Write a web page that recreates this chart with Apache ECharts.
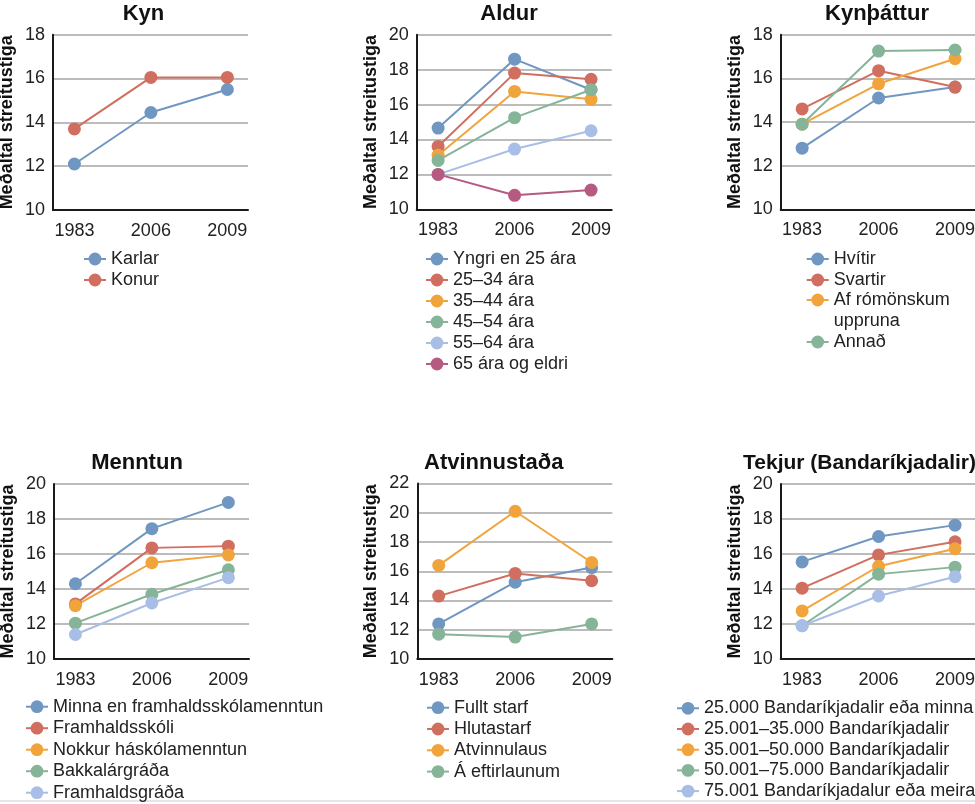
<!DOCTYPE html>
<html>
<head>
<meta charset="utf-8">
<script src="https://cdn.jsdelivr.net/npm/echarts@6/dist/echarts.min.js"></script>
<style>
  html, body { margin: 0; padding: 0; background: #fff; }
  #main { width: 975px; height: 804px; }
</style>
</head>
<body>
<div id="main"></div>
<script>
// litir
var colors = ['#6f97c1', '#d06f5f', '#f2a43c', '#86b498', '#a9bee6', '#b65a82']
var years = ['1983', '2006', '2009']
var yName = 'Meðaltal streitustiga'

// Kyn
var kynNames = ['Karlar', 'Konur']
var kynKarlar = [12.1, 14.45, 15.5]
var kynKonur = [13.7, 16.05, 16.05]

// Aldur
var aldurNames = ['Yngri en 25 ára', '25–34 ára', '35–44 ára', '45–54 ára', '55–64 ára', '65 ára og eldri']
var aldurYngri = [14.65, 18.6, 16.85]
var aldur2534 = [13.6, 17.8, 17.45]
var aldur3544 = [13.1, 16.75, 16.3]
var aldur4554 = [12.8, 15.25, 16.85]
var aldur5564 = [12.0, 13.45, 14.5]
var aldur65 = [12.0, 10.8, 11.1]

// Kynþáttur
var kynthNames = ['Hvítir', 'Svartir', 'Af rómönskum uppruna', 'Annað']
var kynthHvitir = [12.8, 15.1, 15.6]
var kynthSvartir = [14.6, 16.35, 15.6]
var kynthRom = [13.9, 15.75, 16.9]
var kynthAnnad = [13.9, 17.25, 17.3]

// Menntun
var menntNames = ['Minna en framhaldsskólamenntun', 'Framhaldsskóli', 'Nokkur háskólamenntun', 'Bakkalárgráða', 'Framhaldsgráða']
var menntMinna = [14.3, 17.45, 18.95]
var menntFramh = [13.15, 16.35, 16.45]
var menntNokkur = [13.05, 15.5, 15.95]
var menntBakk = [12.05, 13.7, 15.1]
var menntFramhGr = [11.4, 13.2, 14.65]

// Atvinnustaða
var atvNames = ['Fullt starf', 'Hlutastarf', 'Atvinnulaus', 'Á eftirlaunum']
var atvFullt = [12.4, 15.25, 16.25]
var atvHluta = [14.3, 15.85, 15.35]
var atvLaus = [16.4, 20.1, 16.6]
var atvEftir = [11.7, 11.5, 12.4]

// Tekjur
var tekjNames = ['25.000 Bandaríkjadalir eða minna', '25.001–35.000 Bandaríkjadalir', '35.001–50.000 Bandaríkjadalir', '50.001–75.000 Bandaríkjadalir', '75.001 Bandaríkjadalur eða meira']
var tekj25 = [15.55, 17.0, 17.65]
var tekj35 = [14.05, 15.95, 16.7]
var tekj50 = [12.75, 15.3, 16.3]
var tekj75 = [11.9, 14.85, 15.25]
var tekjMeira = [11.9, 13.6, 14.7]

var panels = [
  { title: 'Kyn', names: kynNames, values: [kynKarlar, kynKonur], yMax: 18 },
  { title: 'Aldur', names: aldurNames, values: [aldurYngri, aldur2534, aldur3544, aldur4554, aldur5564, aldur65], yMax: 20 },
  { title: 'Kynþáttur', names: kynthNames, values: [kynthHvitir, kynthSvartir, kynthRom, kynthAnnad], yMax: 18 },
  { title: 'Menntun', names: menntNames, values: [menntMinna, menntFramh, menntNokkur, menntBakk, menntFramhGr], yMax: 20 },
  { title: 'Atvinnustaða', names: atvNames, values: [atvFullt, atvHluta, atvLaus, atvEftir], yMax: 22 },
  { title: 'Tekjur (Bandaríkjadalir)', names: tekjNames, values: [tekj25, tekj35, tekj50, tekj75, tekjMeira], yMax: 20 }
]

// staðsetningar
var layout = [
  { left: 53, top: 34.7, height: 175.3, titleX: 143.5, titleY: 3, legendX: 83,
    legends: [{ names: kynNames, y: 259 }] },
  { left: 416.7, top: 34.7, height: 174.6, titleX: 509, titleY: 3, legendX: 425,
    legends: [{ names: aldurNames, y: 259 }] },
  { left: 780.7, top: 34.7, height: 174.6, titleX: 877, titleY: 3, legendX: 805.7,
    legends: [{ names: ['Hvítir', 'Svartir'], y: 259 }, { names: ['Af rómönskum uppruna'], y: 300, wrap: true }, { names: ['Annað'], y: 342 }] },
  { left: 54, top: 484, height: 175, titleX: 137, titleY: 452, legendX: 25, gap: 21.5,
    legends: [{ names: menntNames, y: 706.7 }] },
  { left: 417.3, top: 483.5, height: 175.5, titleX: 493.7, titleY: 452, legendX: 426, gap: 21.3,
    legends: [{ names: atvNames, y: 707.7 }] },
  { left: 780.7, top: 484, height: 175, titleX: 743, titleAlign: 'left', titleY: 452.5, titleSize: 21, legendX: 676, gap: 20.7,
    legends: [{ names: tekjNames, y: 708.3 }] }
]

var font = 'Liberation Sans, Arial, Helvetica, sans-serif'

var option = {
  animation: false,
  backgroundColor: '#fff',
  title: [], grid: [], xAxis: [], yAxis: [], legend: [], series: [],
  graphic: [{
    type: 'line', shape: { x1: 0, y1: 801, x2: 975, y2: 801 },
    style: { stroke: '#dcdcdc', lineWidth: 1.5 }, silent: true
  }]
}

panels.forEach(function (p, i) {
  var L = layout[i]
  option.title.push({
    text: p.title, left: L.titleX, top: L.titleY, textAlign: L.titleAlign || 'center', padding: 0,
    textStyle: { fontFamily: font, fontSize: L.titleSize || 22, fontWeight: 'bold', color: '#111' }
  })
  option.grid.push({
    left: L.left, top: L.top, width: 195, height: L.height,
    containLabel: false, outerBoundsMode: 'none'
  })
  option.xAxis.push({
    gridIndex: i, type: 'value', min: -0.28, max: 2.27,
    axisLine: { show: true, onZero: false, lineStyle: { color: '#1a1a1a', width: 2 } },
    axisTick: { show: false },
    splitLine: { show: false },
    axisLabel: {
      customValues: [0, 1, 2],
      formatter: function (v) { return years[v] },
      margin: 12, fontSize: 18, color: '#222', fontFamily: font
    }
  })
  option.yAxis.push({
    gridIndex: i, type: 'value', min: 10, max: p.yMax, interval: 2,
    name: yName, nameLocation: 'middle', nameGap: 37,
    nameTextStyle: { fontFamily: font, fontSize: 18, fontWeight: 'bold', color: '#111' },
    axisLine: { show: true, onZero: false, lineStyle: { color: '#1a1a1a', width: 2 } },
    axisTick: { show: false },
    splitLine: { show: true, lineStyle: { color: '#a6a6a6', width: 1.5 } },
    axisLabel: { margin: 8, fontSize: 18, color: '#222', fontFamily: font }
  })
  p.names.forEach(function (name, j) {
    option.series.push({
      name: name, type: 'line', xAxisIndex: i, yAxisIndex: i,
      data: p.values[j].map(function (v, k) { return [k, v] }),
      symbol: 'circle', symbolSize: 13,
      color: colors[j],
      lineStyle: { width: 2 },
      emphasis: { disabled: true }
    })
  })
  var gap = L.gap || 21
  L.legends.forEach(function (lg) {
    option.legend.push({
      orient: 'vertical', left: L.legendX,
      top: lg.wrap ? lg.y - gap * 1.5 : lg.y - gap / 2,
      itemWidth: 22, itemHeight: 16, itemGap: 0, padding: 0,
      selectedMode: false,
      data: lg.names,
      // tóm lína efst svo táknið standi við fyrri línuna
      formatter: lg.wrap ? function (n) { return '\n' + n.replace('rómönskum ', 'rómönskum\n') } : '{name}',
      textStyle: { fontFamily: font, fontSize: 18, lineHeight: gap, color: '#222' }
    })
  })
})

var chart = echarts.init(document.getElementById('main'))
chart.setOption(option)
</script>
</body>
</html>
